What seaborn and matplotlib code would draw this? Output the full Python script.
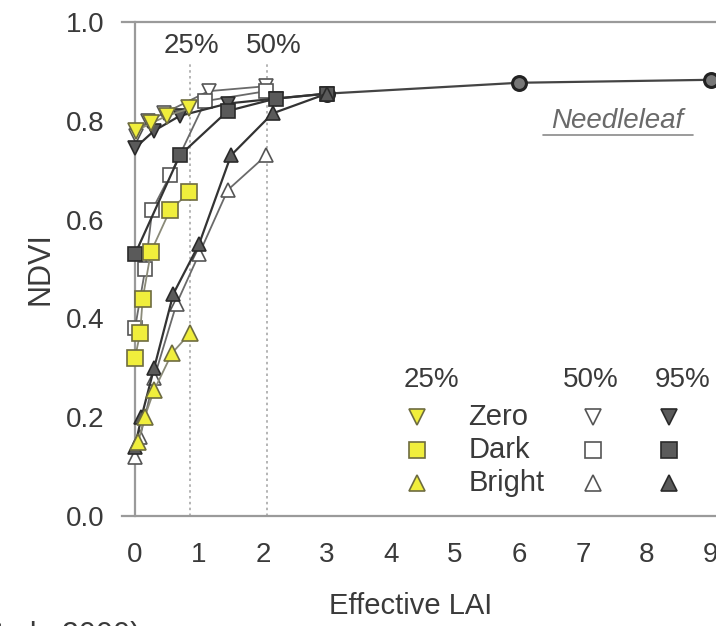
import matplotlib
matplotlib.use("Agg")
import matplotlib.pyplot as plt
import seaborn as sns
import pandas as pd

# Effective LAI vs NDVI for three background types at 25%, 50% and 95% cover
zero_25_lai = [0.02, 0.25, 0.5, 0.85]
zero_25_ndvi = [0.78, 0.795, 0.81, 0.825]
zero_50_lai = [0.02, 0.2, 0.45, 1.15, 2.05]
zero_50_ndvi = [0.77, 0.80, 0.815, 0.86, 0.87]
zero_95_lai = [0.0, 0.3, 0.7, 1.45, 2.2, 3.0]
zero_95_ndvi = [0.745, 0.78, 0.81, 0.835, 0.845, 0.855]

dark_25_lai = [0.0, 0.08, 0.12, 0.25, 0.55, 0.85]
dark_25_ndvi = [0.32, 0.37, 0.44, 0.535, 0.62, 0.655]
dark_50_lai = [0.0, 0.16, 0.27, 0.55, 1.1, 2.05]
dark_50_ndvi = [0.38, 0.50, 0.62, 0.69, 0.84, 0.86]
dark_95_lai = [0.0, 0.7, 1.45, 2.2, 3.0]
dark_95_ndvi = [0.53, 0.73, 0.82, 0.845, 0.855]

bright_25_lai = [0.05, 0.15, 0.3, 0.58, 0.86]
bright_25_ndvi = [0.15, 0.2, 0.255, 0.33, 0.37]
bright_50_lai = [0.0, 0.08, 0.3, 0.65, 1.0, 1.45, 2.05]
bright_50_ndvi = [0.12, 0.16, 0.28, 0.43, 0.53, 0.66, 0.73]
bright_95_lai = [0.0, 0.1, 0.3, 0.6, 1.0, 1.5, 2.15, 3.0]
bright_95_ndvi = [0.14, 0.2, 0.3, 0.45, 0.55, 0.73, 0.815, 0.855]

# saturation tail shared by the dense canopies
tail_lai = [3.0, 6.0, 9.0]
tail_ndvi = [0.855, 0.877, 0.883]

cover_levels = ["25%", "50%", "95%"]
backgrounds = ["Zero", "Dark", "Bright"]
x_ticks = [0, 1, 2, 3, 4, 5, 6, 7, 8, 9]
y_ticks = [0.0, 0.2, 0.4, 0.6, 0.8, 1.0]
guide_lai = [0.86, 2.06]
guide_label_lai = [0.875, 2.17]
guide_labels = ["25%", "50%"]

series = {
    ("Zero", "25%"): (zero_25_lai, zero_25_ndvi),
    ("Zero", "50%"): (zero_50_lai, zero_50_ndvi),
    ("Zero", "95%"): (zero_95_lai, zero_95_ndvi),
    ("Dark", "25%"): (dark_25_lai, dark_25_ndvi),
    ("Dark", "50%"): (dark_50_lai, dark_50_ndvi),
    ("Dark", "95%"): (dark_95_lai, dark_95_ndvi),
    ("Bright", "25%"): (bright_25_lai, bright_25_ndvi),
    ("Bright", "50%"): (bright_50_lai, bright_50_ndvi),
    ("Bright", "95%"): (bright_95_lai, bright_95_ndvi),
}

marker_of = {"Zero": "v", "Dark": "s", "Bright": "^"}
cover_style = {
    "25%": dict(markerfacecolor="#f0ee3c", markeredgecolor="#6e6c40", color="#8a8a78", lw=1.3),
    "50%": dict(markerfacecolor="white", markeredgecolor="#555555", color="#6a6a6a", lw=1.3),
    "95%": dict(markerfacecolor="#5a5a5a", markeredgecolor="#2a2a2a", color="#333333", lw=1.6),
}
marker_size = {"25%": 12, "50%": 10, "95%": 10}

sns.set_style("white")
plt.rcParams["font.family"] = ["Liberation Sans", "DejaVu Sans"]
text_color = "#3a3a3a"
big = 20

fig = plt.figure(figsize=(7.16, 6.26), dpi=100)
W, H = 716, 626
ax = fig.add_axes([122.2 / W, 110 / H, 608 / W, 494 / H])

# dotted guides marking the 25% and 50% cover
for gx, gl, lx in zip(guide_lai, guide_labels, guide_label_lai):
    ax.plot([gx, gx], [0, 0.915], ls=(0, (1.5, 2)), color="#a8a8a8", lw=1.2, zorder=1)
    ax.text(lx, 0.951, gl, ha="center", va="center", fontsize=big, color=text_color)

tail = pd.DataFrame({"lai": tail_lai, "ndvi": tail_ndvi})
sns.lineplot(data=tail, x="lai", y="ndvi", ax=ax, sort=False, color="#444444", lw=1.6,
             marker="o", markersize=10, markerfacecolor="#777777", markeredgecolor="#222222",
             markeredgewidth=2.2, zorder=3)

for cover in ["50%", "95%", "25%"]:
    for bg in backgrounds:
        lai, ndvi = series[(bg, cover)]
        df = pd.DataFrame({"lai": lai, "ndvi": ndvi})
        sns.lineplot(data=df, x="lai", y="ndvi", ax=ax, sort=False,
                     marker=marker_of[bg], markersize=marker_size[cover],
                     markeredgewidth=1.2, zorder=4, **cover_style[cover])

ax.set_xlim(-0.2, 9.3)
ax.set_ylim(0, 1.0)
ax.set_xticks(x_ticks)
ax.set_yticks(y_ticks)
ax.set_yticklabels([f"{v:.1f}" for v in y_ticks])
ax.spines["left"].set_position(("data", 0))
for s in ["left", "bottom", "top", "right"]:
    ax.spines[s].set_color("#9a9a9a")
    ax.spines[s].set_linewidth(1.6)
ax.tick_params(axis="both", length=4, width=1.2, color="#9a9a9a", direction="out",
               labelsize=big, labelcolor=text_color)
ax.tick_params(axis="x", pad=15)
ax.tick_params(axis="y", pad=18)
ax.set_xlabel("Effective LAI", fontsize=21, color=text_color)
ax.xaxis.set_label_coords(0.474, -0.182)
ax.xaxis.label.set_va("center")
ax.set_ylabel("NDVI", fontsize=22, color=text_color)
ax.yaxis.set_label_coords(-0.135, 0.5)
ax.yaxis.label.set_va("center")

ax.text(0.814, 0.800, "Needleleaf", transform=ax.transAxes, fontsize=big, style="italic",
        color="#6a6a6a", ha="center", va="center")
ax.plot([0.692, 0.938], [0.771, 0.771], transform=ax.transAxes, color="#8a8a8a", lw=1.2)

# legend table: cover columns, background rows
col_x = {"25%": 0.485, "50%": 0.774, "95%": 0.899}
head_x = {"25%": 0.508, "50%": 0.771, "95%": 0.921}
row_y = {"Zero": 0.200, "Dark": 0.134, "Bright": 0.067}
for cover in cover_levels:
    ax.text(head_x[cover], 0.275, cover, transform=ax.transAxes, fontsize=big,
            color=text_color, ha="center", va="center")
    for bg in backgrounds:
        st = cover_style[cover]
        ax.plot([col_x[cover]], [row_y[bg]], transform=ax.transAxes, marker=marker_of[bg],
                markersize=11, markerfacecolor=st["markerfacecolor"],
                markeredgecolor=st["markeredgecolor"], markeredgewidth=1.2, ls="none")
for bg in backgrounds:
    ax.text(0.569, row_y[bg], bg, transform=ax.transAxes, fontsize=21,
            color=text_color, ha="left", va="center")

fig.text(140 / W, 1 - 621 / H, "et al., 2000)", fontsize=22, color=text_color,
         ha="right", va="top")

fig.savefig("out.png", dpi=100)
